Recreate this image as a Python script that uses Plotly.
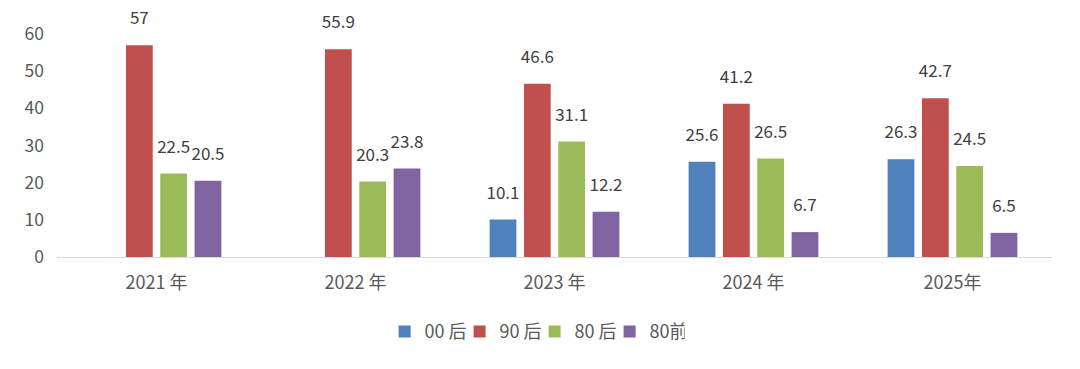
import plotly.graph_objects as go

categories = ["2021 年", "2022 年", "2023 年", "2024 年", "2025年"]
s00 = [None, None, 10.1, 25.6, 26.3]
s90 = [57, 55.9, 46.6, 41.2, 42.7]
s80 = [22.5, 20.3, 31.1, 26.5, 24.5]
s80pre = [20.5, 23.8, 12.2, 6.7, 6.5]

series = [
    ("00 后", s00, "#4F81BD"),
    ("90 后", s90, "#C0504D"),
    ("80 后", s80, "#9BBB59"),
    ("80前", s80pre, "#8064A2"),
]

FONT = "Noto Sans CJK SC"
GAP = 0.31

fig = go.Figure()
for name, vals, color in series:
    fig.add_trace(go.Bar(
        name=name,
        x=categories,
        y=vals,
        marker=dict(color=color, line=dict(width=0)),
        hoverinfo="y",
    ))
# value labels, grouped like the bars
for name, vals, color in series:
    fig.add_trace(go.Scatter(
        x=categories,
        y=vals,
        mode="markers+text",
        marker=dict(size=25, opacity=0),
        text=[("" if v is None else f"{v:g}") for v in vals],
        textposition="top center",
        textfont=dict(size=17, color="#404040", family=FONT),
        showlegend=False,
        hoverinfo="skip",
        cliponaxis=False,
    ))

fig.update_layout(
    width=1080, height=369,
    margin=dict(l=49, r=36, t=22, b=120),
    paper_bgcolor="white", plot_bgcolor="white",
    barmode="group",
    bargap=GAP,
    bargroupgap=0.22,
    scattermode="group",
    scattergap=GAP,
    font=dict(family=FONT, size=17, color="#595959"),
    showlegend=True,
    legend=dict(orientation="h", x=0.48, xanchor="center", y=-0.335, yanchor="middle",
                font=dict(size=18, color="#595959", family=FONT), itemwidth=30,
                entrywidth=30, entrywidthmode="pixels",
                traceorder="normal"),
    xaxis=dict(showline=True, linecolor="#D9D9D9", linewidth=1, ticks="",
               showgrid=False, tickfont=dict(size=18, color="#595959"),
               ticklabelstandoff=9),
    yaxis=dict(range=[0, 60], dtick=10, showgrid=False, zeroline=False,
               showline=False, tickfont=dict(size=17.5, color="#595959"),
               ticklabelstandoff=12),
)

fig.write_html("out.html")
